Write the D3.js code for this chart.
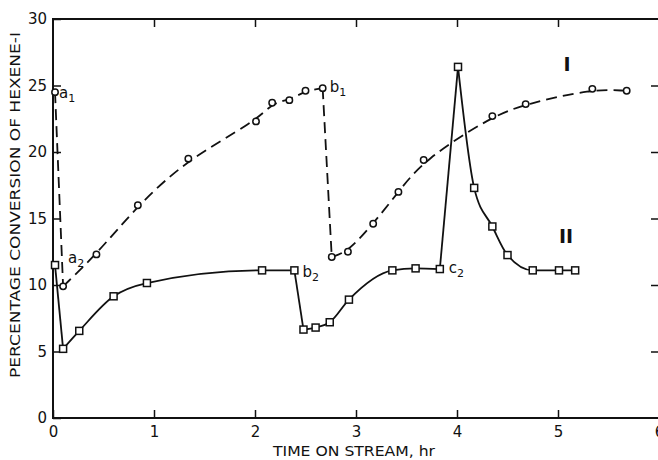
<!DOCTYPE html>
<html>
<head>
<meta charset="utf-8">
<script src="https://cdn.jsdelivr.net/npm/d3@7/dist/d3.min.js"></script>
<style>
  html, body { margin: 0; padding: 0; background: #fff; }
  svg { display: block; }
  text { font-family: "DejaVu Sans", sans-serif; fill: #111; }
</style>
</head>
<body>
<svg id="chart" width="658" height="460"></svg>
<script>
// ---- data ----
const hoursI = [0.02, 0.10, 0.43, 0.84, 1.34, 2.01, 2.17, 2.34, 2.50, 2.67, 2.76, 2.92, 3.17, 3.42, 3.67, 4.35, 4.68, 5.34, 5.68];
const convI  = [24.5, 9.9, 12.3, 16.0, 19.5, 22.3, 23.7, 23.9, 24.6, 24.8, 12.1, 12.5, 14.6, 17.0, 19.4, 22.7, 23.6, 24.75, 24.6];
// segments of curve I: [start index, end index, smooth?]
const segmentsI = [[0, 1, false], [1, 9, true], [9, 10, false], [10, 18, true]];

const hoursII = [0.02, 0.10, 0.26, 0.60, 0.93, 2.07, 2.39, 2.48, 2.60, 2.74, 2.93, 3.36, 3.59, 3.83, 4.01, 4.17, 4.35, 4.50, 4.75, 5.01, 5.17];
const convII  = [11.5, 5.2, 6.55, 9.15, 10.15, 11.1, 11.1, 6.65, 6.8, 7.2, 8.9, 11.1, 11.25, 11.2, 26.4, 17.3, 14.4, 12.25, 11.1, 11.1, 11.1];
const segmentsII = [[0, 1, false], [1, 6, true], [6, 7, false], [7, 13, true], [13, 14, false], [14, 20, true]];

// point annotations: [series, index, letter, subscript]
const annotations = [["I", 0, "a", "1"], ["I", 1, "a", "2"], ["I", 9, "b", "1"], ["II", 6, "b", "2"], ["II", 13, "c", "2"]];

const xTicks = [0, 1, 2, 3, 4, 5, 6];
const yTicks = [0, 5, 10, 15, 20, 25, 30];
const xTitle = "TIME ON STREAM, hr";
const yTitle = "PERCENTAGE CONVERSION OF HEXENE-I";

// ---- layout ----
const svg = d3.select("#chart");
const x = d3.scaleLinear().domain([0, 6]).range([53, 659]);
const y = d3.scaleLinear().domain([0, 30]).range([418, 19]);

const ptsI = hoursI.map((h, i) => [h, convI[i]]);
const ptsII = hoursII.map((h, i) => [h, convII[i]]);

// frame
svg.append("rect")
  .attr("x", x(0)).attr("y", y(30))
  .attr("width", x(6) - x(0) + 1).attr("height", y(0) - y(30))
  .attr("fill", "none").attr("stroke", "#111").attr("stroke-width", 2);

// axes with inward ticks
const gx = svg.append("g").attr("transform", `translate(0,${y(0)})`)
  .call(d3.axisBottom(x).tickValues(xTicks).tickSizeInner(-8).tickSizeOuter(0).tickPadding(8).tickFormat(d3.format("d")));
const gxt = svg.append("g").attr("transform", `translate(0,${y(30)})`)
  .call(d3.axisTop(x).tickValues(xTicks.slice(1, 6)).tickSizeInner(-8).tickSizeOuter(0).tickFormat(""));
const gy = svg.append("g").attr("transform", `translate(${x(0)},0)`)
  .call(d3.axisLeft(y).tickValues(yTicks).tickSizeInner(-8).tickSizeOuter(0).tickPadding(6).tickFormat(d3.format("d")));
const gyr = svg.append("g").attr("transform", `translate(${x(6)},0)`)
  .call(d3.axisRight(y).tickValues(yTicks.slice(1, 6)).tickSizeInner(-8).tickSizeOuter(0).tickFormat(""));
[gx, gxt, gy, gyr].forEach(g => {
  g.select(".domain").remove();
  g.selectAll(".tick line").attr("stroke", "#111").attr("stroke-width", 1.5);
  g.selectAll("text").attr("font-size", 15).attr("fill", "#111").attr("font-family", "DejaVu Sans, sans-serif");
});

// titles
svg.append("text").attr("x", 354).attr("y", 456)
  .attr("text-anchor", "middle").attr("font-size", 14)
  .attr("textLength", 162).attr("lengthAdjust", "spacingAndGlyphs")
  .text(xTitle);
svg.append("text")
  .attr("transform", "translate(20,205) rotate(-90)")
  .attr("text-anchor", "middle").attr("font-size", 14)
  .attr("textLength", 346).attr("lengthAdjust", "spacingAndGlyphs")
  .text(yTitle);

// curves
function drawSeries(pts, segments, curveSmooth, dashed) {
  segments.forEach(([a, b, smooth]) => {
    const line = d3.line().x(d => x(d[0])).y(d => y(d[1]))
      .curve(smooth ? curveSmooth : d3.curveLinear);
    svg.append("path")
      .attr("d", line(pts.slice(a, b + 1)))
      .attr("fill", "none").attr("stroke", "#111")
      .attr("stroke-width", 1.8)
      .attr("stroke-dasharray", dashed ? "11,6" : null);
  });
}
drawSeries(ptsI, segmentsI, d3.curveBasis, true);
drawSeries(ptsII, segmentsII, d3.curveMonotoneX, false);

// markers
svg.append("g").selectAll("circle").data(ptsI).join("circle")
  .attr("cx", d => x(d[0])).attr("cy", d => y(d[1])).attr("r", 3.2)
  .attr("fill", "#fff").attr("stroke", "#111").attr("stroke-width", 1.5);
svg.append("g").selectAll("rect").data(ptsII).join("rect")
  .attr("x", d => x(d[0]) - 3.5).attr("y", d => y(d[1]) - 3.5)
  .attr("width", 7).attr("height", 7)
  .attr("fill", "#fff").attr("stroke", "#111").attr("stroke-width", 1.5);

// point annotations
const labelOffset = { "I0": [4, 6], "I1": [5, -23], "I9": [7, 4], "II6": [8, 7], "II13": [9, 4] };
annotations.forEach(([s, i, letter, sub]) => {
  const p = s === "I" ? ptsI[i] : ptsII[i];
  const off = labelOffset[s + i];
  const t = svg.append("text")
    .attr("x", x(p[0]) + off[0]).attr("y", y(p[1]) + off[1])
    .attr("font-size", 15);
  t.append("tspan").text(letter);
  t.append("tspan").attr("dy", 4).attr("font-size", 11).text(sub);
});

// series numerals
svg.append("text").attr("x", 567).attr("y", 71).attr("text-anchor", "middle")
  .attr("font-family", "Liberation Serif, serif").attr("font-weight", "bold").attr("font-size", 19)
  .text("I");
svg.append("text").attr("x", 566).attr("y", 243).attr("text-anchor", "middle")
  .attr("font-family", "Liberation Serif, serif").attr("font-weight", "bold").attr("font-size", 19)
  .text("II");
</script>
</body>
</html>
